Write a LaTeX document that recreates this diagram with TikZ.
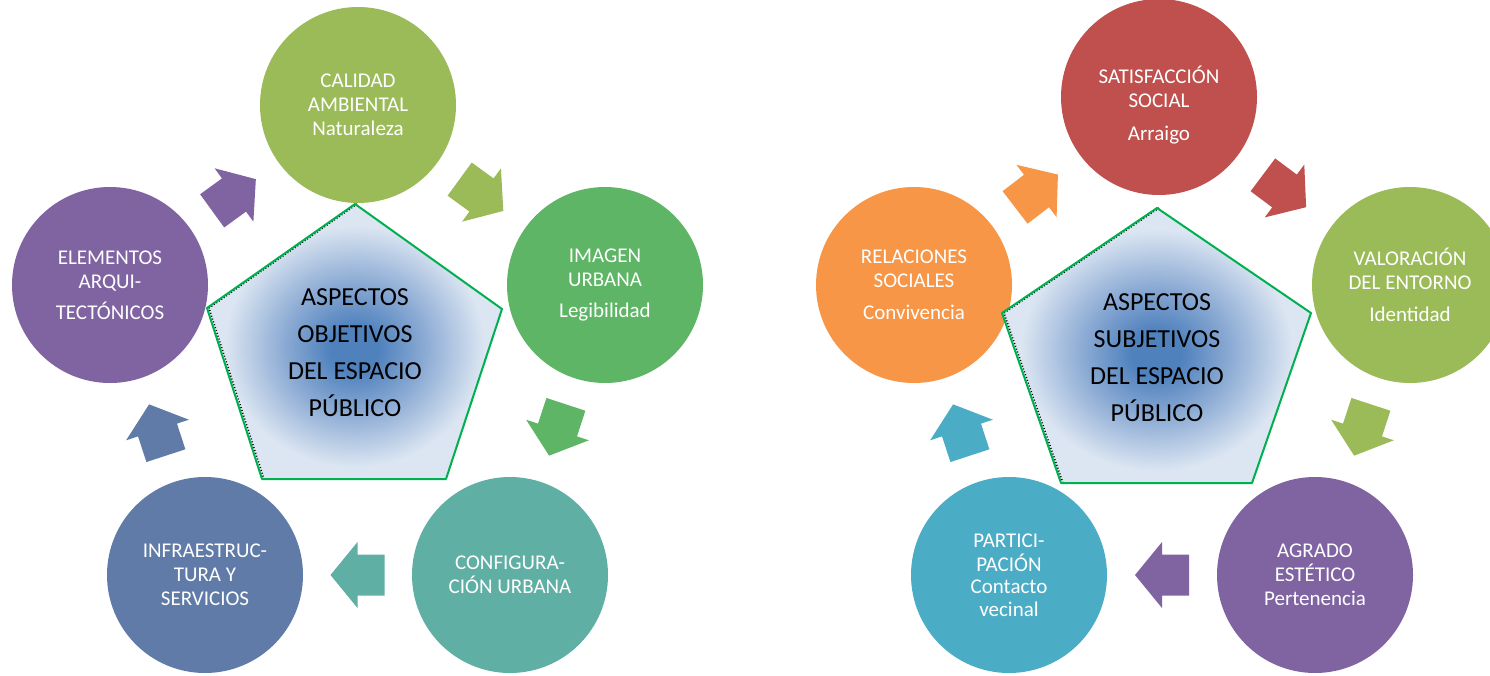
\documentclass[tikz,border=0pt]{standalone}
\usepackage{fontspec}
\setmainfont{Carlito}
\usetikzlibrary{calc}
\definecolor{cOlive}{RGB}{155,187,89}
\definecolor{cGreen}{RGB}{93,181,101}
\definecolor{cTeal}{RGB}{96,175,164}
\definecolor{cBlue}{RGB}{96,123,168}
\definecolor{cPurple}{RGB}{128,100,162}
\definecolor{cRed}{RGB}{192,80,77}
\definecolor{cCyan}{RGB}{75,172,198}
\definecolor{cOrange}{RGB}{247,150,70}
\definecolor{pBlue}{RGB}{79,129,189}
\definecolor{pMid}{RGB}{140,171,212}
\definecolor{pLight}{RGB}{220,230,242}
\definecolor{pEdge}{RGB}{0,176,80}
\pgfdeclareradialshading{pentshade}{\pgfpoint{0bp}{-1.5bp}}{color(0bp)=(pBlue); color(4bp)=(pBlue); color(12bp)=(pMid); color(22bp)=(pLight); color(50bp)=(pLight)}
\newcommand\cyclearrow[3]{%
  \pgfmathanglebetweenpoints{\pgfpointanchor{#1}{center}}{\pgfpointanchor{#2}{center}}%
  \edef\arrang{\pgfmathresult}%
  \fill[#3, shift={($(#1)!0.5!(#2)$)}, rotate=\arrang] (27,0) -- (0,33) -- (0,20.5) -- (-27,20.5) -- (-27,-20.5) -- (0,-20.5) -- (0,-33) -- cycle;}
\tikzset{
  circ/.style={circle, minimum size=196pt, inner sep=0pt, text=white, align=center, font=\fontsize{21}{24}\selectfont},
  ctext/.style={text=white, align=center, font=\fontsize{21}{24}\selectfont},
  ptext/.style={align=center, text=black, font=\fontsize{26}{37}\selectfont},
  pedge/.style={draw=pEdge, line width=2pt, line join=round},
  pspeck/.style={draw=black, line width=1.5pt, dash pattern=on 1pt off 2pt}
}
\begin{document}
\begin{tikzpicture}[x=1pt,y=-1pt]
\useasboundingbox (0,0) rectangle (1490,675);
% left cycle
\node[circ, fill=cOlive] (cal) at (358,105) {CALIDAD\\AMBIENTAL\\Naturaleza};
\node[circ, fill=cGreen] (img) at (605,285) {IMAGEN\\URBANA\\[7pt]Legibilidad};
\node[circ, fill=cTeal] (conf) at (510,575) {CONFIGURA-\\CIÓN URBANA};
\node[circ, fill=cBlue] (inf) at (205,575) {INFRAESTRUC-\\TURA Y\\SERVICIOS};
\node[circ, fill=cPurple] (ele) at (110,285) {ELEMENTOS\\ARQUI-\\[7pt]TECTÓNICOS};
\cyclearrow{ele}{cal}{cPurple}
\cyclearrow{cal}{img}{cOlive}
\cyclearrow{img}{conf}{cGreen}
\cyclearrow{conf}{inf}{cTeal}
\cyclearrow{inf}{ele}{cBlue}
\shade[shading=pentshade] (355,204) -- (502,309) -- (446,479) -- (262,479) -- (207,308) -- cycle;
\draw[pspeck, xshift=2pt] (355,204) -- (207,308) -- (262,479);
\draw[pedge] (355,204) -- (502,309) -- (446,479) -- (262,479) -- (207,308) -- cycle;
\node[ptext] (lp) at (355,352.5) {ASPECTOS\\OBJETIVOS\\DEL ESPACIO\\PÚBLICO};
% right cycle
\node[circ, fill=cRed] (sat) at (1159,97) {};
\node[ctext] (satx) at (1159,105) {SATISFACCIÓN\\SOCIAL\\[9pt]Arraigo};
\node[circ, fill=cOlive] (val) at (1410,285) {VALORACIÓN\\DEL ENTORNO\\[8pt]Identidad};
\node[circ, fill=cPurple] (agr) at (1315,575) {AGRADO\\ESTÉTICO\\Pertenencia};
\node[circ, fill=cCyan] (par) at (1009,575) {PARTICI-\\PACIÓN\\[-2pt]Contacto\\[-1pt]vecinal};
\node[circ, fill=cOrange] (rel) at (914,285) {RELACIONES\\SOCIALES\\[8pt]Convivencia};
\cyclearrow{rel}{sat}{cOrange}
\cyclearrow{sat}{val}{cRed}
\cyclearrow{val}{agr}{cOlive}
\cyclearrow{agr}{par}{cPurple}
\cyclearrow{par}{rel}{cCyan}
\shade[shading=pentshade] (1157,208) -- (1311,313) -- (1252,483) -- (1061,483) -- (1002,313) -- cycle;
\draw[pspeck, xshift=2pt] (1157,208) -- (1002,313) -- (1061,483);
\draw[pedge] (1157,208) -- (1311,313) -- (1252,483) -- (1061,483) -- (1002,313) -- cycle;
\node[ptext] (rp) at (1157,357.5) {ASPECTOS\\SUBJETIVOS\\DEL ESPACIO\\PÚBLICO};
\end{tikzpicture}
\end{document}
